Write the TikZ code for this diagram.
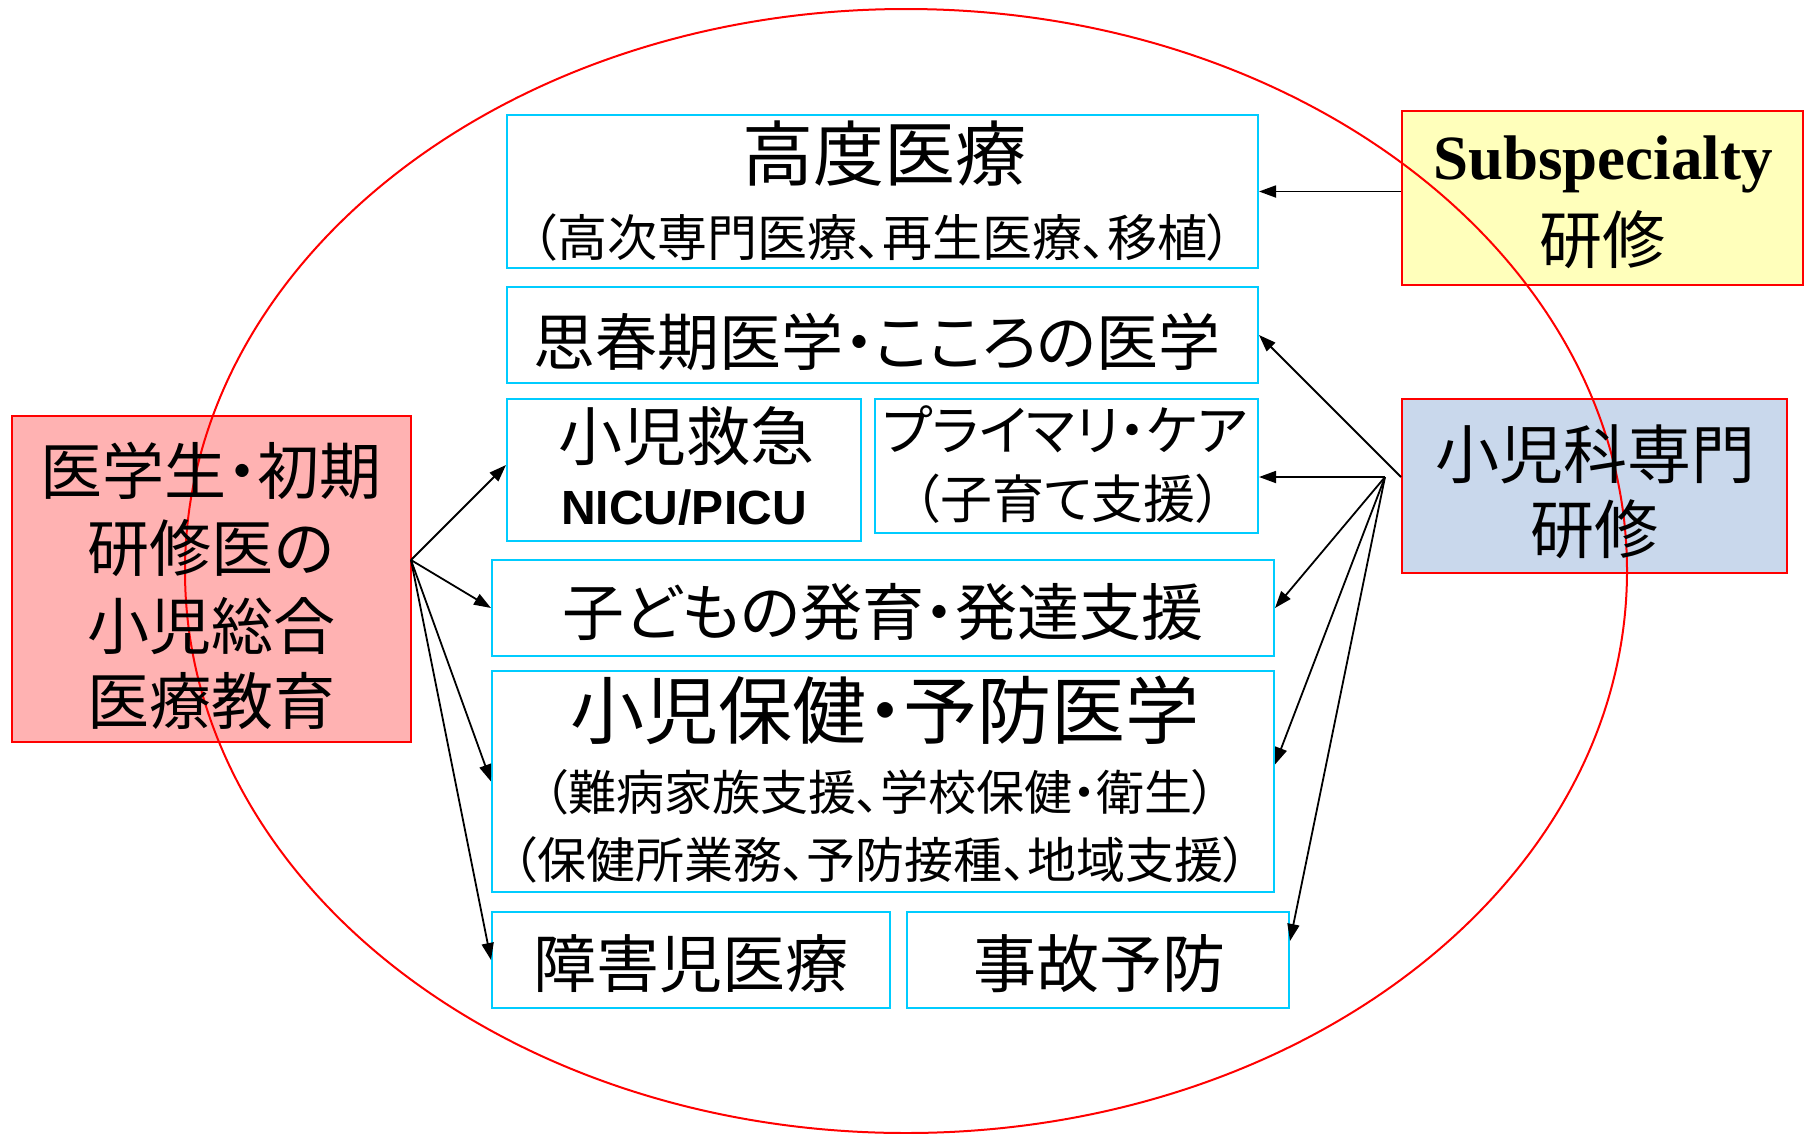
\documentclass[tikz,border=0pt]{standalone}
\usepackage{fontspec}
\usetikzlibrary{arrows.meta,backgrounds}
\newfontfamily\jp{Noto Sans CJK JP}
\newfontfamily\jpp[RawFeature=+palt]{Noto Sans CJK JP}
\newfontfamily\tnr{Liberation Serif}
\newfontfamily\arialf{Liberation Sans}
\definecolor{cyanb}{RGB}{0,204,255}
\definecolor{pinkf}{RGB}{255,178,178}
\definecolor{yellowf}{RGB}{255,255,187}
\definecolor{bluef}{RGB}{201,216,236}
\newcommand{\fsz}[1]{\fontsize{#1}{#1}\selectfont}
\begin{document}
\begin{tikzpicture}[x=1pt,y=-1pt,
  cbox/.style={draw=cyanb,line width=2pt,rectangle,inner sep=0pt},
  rbox/.style={draw=red,line width=2pt,rectangle,inner sep=0pt},
  txt/.style={inner sep=0pt,anchor=center},
  arr/.style={line width=1.8pt,-{Triangle[length=17pt,width=12pt]}}]
\useasboundingbox (0,0) rectangle (1810,1133);

% boxes
\node[cbox,minimum width=751pt,minimum height=153pt] (b1) at (882.5,191.5) {};
\node[cbox,minimum width=751pt,minimum height=96pt] (b2) at (882.5,335) {};
\node[cbox,minimum width=354pt,minimum height=142pt] (b3) at (684,470) {};
\node[cbox,minimum width=383pt,minimum height=134pt] (b4) at (1066.5,466) {};
\node[cbox,minimum width=782pt,minimum height=96pt] (b5) at (883,608) {};
\node[cbox,minimum width=782pt,minimum height=221pt] (b6) at (883,781.5) {};
\node[cbox,minimum width=398pt,minimum height=96pt] (b7) at (691,960) {};
\node[cbox,minimum width=382pt,minimum height=96pt] (b8) at (1098,960) {};
\node[rbox,minimum width=399pt,minimum height=326pt] (pink) at (211.5,579) {};
\node[rbox,minimum width=401pt,minimum height=174pt] (yellow) at (1602.5,198) {};
\node[rbox,minimum width=385pt,minimum height=174pt] (blue) at (1594.5,486) {};

\begin{scope}[on background layer]
  \fill[white] (0,0) rectangle (1810,1133);
  \fill[pinkf] (pink.south west) rectangle (pink.north east);
  \fill[yellowf] (yellow.south west) rectangle (yellow.north east);
  \fill[bluef] (blue.south west) rectangle (blue.north east);
  \draw[red,line width=2pt] (906,571) ellipse [x radius=721, y radius=562];
\end{scope}

% texts
\node[txt] (t1a) at (884,154) {\jp\fsz{71}高度医療};
\node[txt] (t1b) at (882,237) {\jpp\fsz{50}（高次専門医療、再生医療、移植）};
\node[txt] (t2) at (877,342) {\jpp\fsz{62}思春期医学・こころの医学};
\node[txt] (t3a) at (686,436) {\jp\fsz{64}小児救急};
\node[txt] (t3b) at (684,508) {\arialf\bfseries\fsz{48}NICU/PICU};
\node[txt] (t4a) at (1065,429) {\jpp\fsz{54}プライマリ・ケア};
\node[txt] (t4b) at (1068,499) {\jpp\fsz{52}（子育て支援）};
\node[txt] (t5) at (883,612) {\jpp\fsz{62}子どもの発育・発達支援};
\node[txt] (t6a) at (885,710) {\jpp\fsz{74}小児保健・予防医学};
\node[txt] (t6b) at (880,792) {\jpp\fsz{48}（難病家族支援、学校保健・衛生）};
\node[txt] (t6c) at (880,860) {\jpp\fsz{49}（保健所業務、予防接種、地域支援）};
\node[txt] (t7) at (691,964) {\jp\fsz{63}障害児医療};
\node[txt] (t8) at (1099,964) {\jp\fsz{63}事故予防};
\node[txt] (p1) at (211,471) {\jpp\fsz{62}医学生・初期};
\node[txt] (p2) at (211,548) {\jp\fsz{62}研修医の};
\node[txt] (p3) at (211,626) {\jp\fsz{62}小児総合};
\node[txt] (p4) at (211,701) {\jp\fsz{62}医療教育};
\node[txt] (y1) at (1603,164) {\tnr\bfseries\fsz{63}Subspecialty};
\node[txt] (y2) at (1602,240) {\jp\fsz{63}研修};
\node[txt] (s1) at (1595,454) {\jp\fsz{64}小児科専門};
\node[txt] (s2) at (1594,529) {\jp\fsz{64}研修};

% connectors
\coordinate (ph) at (411,560);
\coordinate (bh) at (1385,477);
\draw[arr] (ph) -- ([yshift=5pt]b3.west);
\draw[arr] (ph) -- (b5.west);
\draw[arr] (ph) -- (b6.west);
\draw[arr] (ph) -- (b7.west);
\draw[arr] (yellow.west |- b1.east) -- (b1.east);
\draw[arr] (blue.west |- bh) -- (b2.east);
\draw[arr] (bh) -- (b4.east |- bh);
\draw[arr] (bh) -- (b5.east);
\draw[arr] (bh) -- ([yshift=17pt]b6.east);
\draw[arr] (bh) -- ([yshift=19pt]b8.east);
\end{tikzpicture}
\end{document}
